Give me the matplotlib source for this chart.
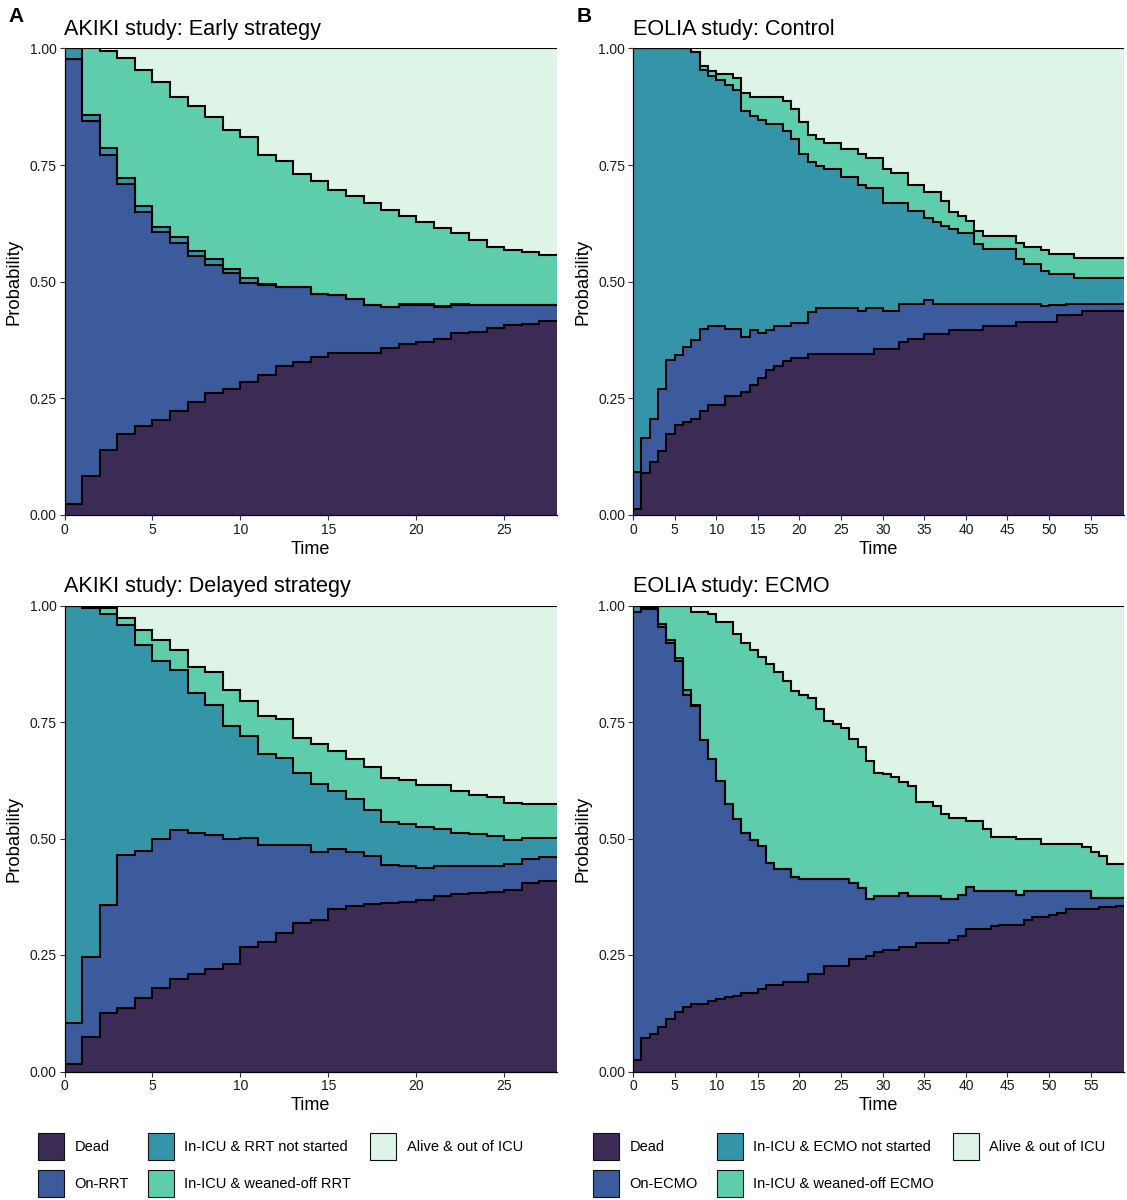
import numpy as np
import matplotlib
matplotlib.use("Agg")
import matplotlib.pyplot as plt
from matplotlib.patches import Patch

plt.rcParams['font.family'] = ['Liberation Sans', 'DejaVu Sans']

# ---------------- data (cumulative stacked state probabilities, one value per day interval) ----
# AKIKI early strategy (days 0..28)
akiki_early_dead = [0.023, 0.084, 0.139, 0.173, 0.190, 0.204, 0.222, 0.242, 0.262, 0.270, 0.286, 0.299, 0.319, 0.328,
                    0.338, 0.347, 0.347, 0.347, 0.357, 0.366, 0.370, 0.378, 0.389, 0.393, 0.401, 0.407, 0.410, 0.416]
akiki_early_on = [0.977, 0.844, 0.772, 0.710, 0.649, 0.607, 0.584, 0.556, 0.535, 0.518, 0.498, 0.493, 0.488, 0.488,
                  0.473, 0.471, 0.462, 0.449, 0.445, 0.451, 0.451, 0.446, 0.451, 0.449, 0.449, 0.449, 0.449, 0.449]
akiki_early_notstarted = [1.000, 0.858, 0.786, 0.723, 0.663, 0.618, 0.595, 0.566, 0.548, 0.528, 0.508, 0.495, 0.489,
                          0.489, 0.474, 0.472, 0.463, 0.450, 0.446, 0.452, 0.452, 0.447, 0.452, 0.450, 0.450, 0.450,
                          0.450, 0.450]
akiki_early_weaned = [1.000, 1.000, 0.995, 0.980, 0.953, 0.929, 0.896, 0.876, 0.853, 0.826, 0.810, 0.771, 0.758, 0.730,
                      0.715, 0.697, 0.683, 0.669, 0.654, 0.641, 0.627, 0.615, 0.604, 0.590, 0.574, 0.567, 0.564, 0.557]

# AKIKI delayed strategy (days 0..28)
akiki_delayed_dead = [0.017, 0.073, 0.125, 0.136, 0.158, 0.180, 0.199, 0.209, 0.221, 0.230, 0.268, 0.278, 0.298,
                      0.319, 0.325, 0.348, 0.355, 0.359, 0.361, 0.363, 0.367, 0.377, 0.381, 0.382, 0.386, 0.390,
                      0.405, 0.408]
akiki_delayed_on = [0.105, 0.245, 0.357, 0.465, 0.473, 0.498, 0.519, 0.512, 0.507, 0.500, 0.502, 0.485, 0.486, 0.485,
                    0.470, 0.477, 0.470, 0.462, 0.444, 0.442, 0.436, 0.442, 0.442, 0.442, 0.442, 0.445, 0.457, 0.461]
akiki_delayed_notstarted = [1.000, 0.995, 0.982, 0.959, 0.915, 0.881, 0.861, 0.812, 0.786, 0.742, 0.719, 0.682, 0.672,
                            0.640, 0.617, 0.603, 0.584, 0.562, 0.536, 0.531, 0.525, 0.521, 0.512, 0.509, 0.505, 0.496,
                            0.502, 0.502]
akiki_delayed_weaned = [1.000, 0.998, 0.995, 0.973, 0.948, 0.925, 0.905, 0.868, 0.858, 0.819, 0.795, 0.763, 0.757,
                        0.715, 0.702, 0.688, 0.671, 0.653, 0.630, 0.626, 0.615, 0.615, 0.601, 0.594, 0.590, 0.577,
                        0.575, 0.573]

# EOLIA control (days 0..59)
eolia_control_dead = [0.012, 0.091, 0.114, 0.138, 0.174, 0.192, 0.199, 0.206, 0.222, 0.235, 0.235, 0.255, 0.255,
                      0.264, 0.279, 0.294, 0.311, 0.320, 0.329, 0.336, 0.336,
                      0.345, 0.345, 0.345, 0.345, 0.345, 0.345, 0.345, 0.345,
                      0.355, 0.355, 0.355, 0.370, 0.378, 0.378, 0.387, 0.387, 0.387,
                      0.396, 0.396, 0.396, 0.396, 0.405, 0.405, 0.405, 0.405,
                      0.414, 0.414, 0.414, 0.414, 0.414, 0.428, 0.428, 0.428,
                      0.437, 0.437, 0.437, 0.437, 0.437]
eolia_control_on = [0.093, 0.165, 0.206, 0.269, 0.333, 0.343, 0.359, 0.374, 0.399, 0.404, 0.404, 0.399, 0.399, 0.381,
                    0.397, 0.389, 0.397, 0.405, 0.405, 0.412, 0.412, 0.436,
                    0.444, 0.444, 0.444, 0.444, 0.444, 0.437, 0.444, 0.444, 0.438, 0.438,
                    0.452, 0.452, 0.452, 0.460,
                    0.452, 0.452, 0.452, 0.452, 0.452, 0.452, 0.452, 0.452, 0.452, 0.452, 0.452, 0.452, 0.452,
                    0.447, 0.449, 0.449,
                    0.453, 0.453, 0.453, 0.453, 0.453, 0.453, 0.453]
eolia_control_notstarted = [1.000, 1.000, 1.000, 1.000, 1.000, 1.000, 1.000,
                            0.993, 0.953, 0.941, 0.932, 0.921, 0.911, 0.865, 0.855, 0.847, 0.838, 0.838, 0.822,
                            0.806, 0.773, 0.757, 0.748, 0.741, 0.741, 0.724, 0.724, 0.708, 0.701, 0.701, 0.668,
                            0.668, 0.668, 0.652, 0.652, 0.636, 0.629, 0.620, 0.612, 0.604, 0.604, 0.580,
                            0.571, 0.571, 0.571, 0.571, 0.548, 0.539, 0.539, 0.523, 0.516, 0.516, 0.516,
                            0.508, 0.508, 0.508, 0.508, 0.508, 0.508]
eolia_control_weaned = [1.000, 1.000, 1.000, 1.000, 1.000, 1.000, 1.000,
                        0.993, 0.962, 0.952, 0.945, 0.945, 0.937, 0.905, 0.896, 0.896, 0.896, 0.896,
                        0.888, 0.871, 0.842, 0.814, 0.806, 0.798, 0.798, 0.784, 0.784, 0.773, 0.766, 0.766,
                        0.742, 0.733, 0.733, 0.708, 0.708, 0.692, 0.692, 0.674, 0.649, 0.641, 0.631, 0.608,
                        0.599, 0.599, 0.599, 0.599, 0.583, 0.574, 0.574, 0.567, 0.559, 0.559, 0.559,
                        0.551, 0.551, 0.551, 0.551, 0.551, 0.551]

# EOLIA ECMO (days 0..59)
eolia_ecmo_dead = [0.025, 0.071, 0.081, 0.096, 0.113, 0.128, 0.138, 0.144, 0.145, 0.152, 0.155, 0.160, 0.162, 0.168,
                   0.169, 0.178, 0.185, 0.185, 0.192, 0.192, 0.192, 0.209, 0.209, 0.226, 0.226, 0.226, 0.242, 0.242,
                   0.248, 0.257, 0.260, 0.260, 0.268, 0.268, 0.276, 0.276, 0.276, 0.276, 0.283, 0.290, 0.305, 0.305,
                   0.305, 0.312, 0.315, 0.315, 0.315, 0.325, 0.331, 0.331, 0.336, 0.340, 0.348, 0.348, 0.348, 0.348,
                   0.353, 0.353, 0.355]
eolia_ecmo_on = [0.987, 0.992, 0.992, 0.953, 0.920, 0.881, 0.808, 0.784, 0.711, 0.670, 0.624, 0.574, 0.542, 0.512,
                 0.496, 0.484, 0.448, 0.435, 0.435, 0.418, 0.413, 0.413, 0.413, 0.413, 0.413, 0.413, 0.405, 0.394,
                 0.371, 0.377, 0.377, 0.377, 0.383, 0.377, 0.377, 0.377, 0.377, 0.371, 0.371, 0.378, 0.396, 0.388,
                 0.388, 0.388, 0.388, 0.388, 0.378, 0.388, 0.388, 0.388, 0.388, 0.388, 0.388, 0.388, 0.388, 0.372,
                 0.372, 0.372, 0.372]
eolia_ecmo_notstarted = [1.000, 0.996, 0.996, 0.960, 0.927, 0.888, 0.819, 0.786, 0.712, 0.670, 0.624, 0.574, 0.542,
                         0.512, 0.496, 0.484, 0.448, 0.435, 0.435, 0.418, 0.413, 0.413, 0.413, 0.413, 0.413, 0.413,
                         0.405, 0.394, 0.371, 0.377, 0.377, 0.377, 0.383, 0.377, 0.377, 0.377, 0.377, 0.371, 0.371,
                         0.378, 0.396, 0.388, 0.388, 0.388, 0.388, 0.388, 0.378, 0.388, 0.388, 0.388, 0.388, 0.388,
                         0.388, 0.388, 0.388, 0.372, 0.372, 0.372, 0.372]
eolia_ecmo_weaned = [1.000, 1.000, 1.000, 1.000, 1.000, 1.000, 1.000, 0.987, 0.987, 0.982, 0.965, 0.965, 0.938,
                     0.920, 0.904, 0.889, 0.874, 0.858, 0.837, 0.817, 0.809, 0.801, 0.778, 0.753, 0.745, 0.738,
                     0.713, 0.697, 0.666, 0.640, 0.638, 0.631, 0.621, 0.613, 0.578, 0.578, 0.570, 0.553, 0.545,
                     0.545, 0.538, 0.538, 0.521, 0.503, 0.503, 0.503, 0.498, 0.498, 0.498, 0.488, 0.488, 0.488,
                     0.488, 0.488, 0.481, 0.471, 0.463, 0.445, 0.445]

titles = ["AKIKI study: Early strategy", "EOLIA study: Control",
          "AKIKI study: Delayed strategy", "EOLIA study: ECMO"]
akiki_labels = ["Dead", "On-RRT", "In-ICU & RRT not started", "In-ICU & weaned-off RRT", "Alive & out of ICU"]
eolia_labels = ["Dead", "On-ECMO", "In-ICU & ECMO not started", "In-ICU & weaned-off ECMO", "Alive & out of ICU"]
y_ticks = [0.0, 0.25, 0.5, 0.75, 1.0]
y_ticklabels = ["0.00", "0.25", "0.50", "0.75", "1.00"]

state_colors = ["#3B2B55", "#3B5B9C", "#3595A8", "#5ECDAB", "#DDF4E6"]

fig = plt.figure(figsize=(11.27, 12.0), dpi=100)
W, H = 1127.0, 1200.0

def ax_rect(l, t, r, b):
    return [l / W, 1 - b / H, (r - l) / W, (b - t) / H]

axA = fig.add_axes(ax_rect(64.5, 48.4, 557, 515))
axB = fig.add_axes(ax_rect(633, 48.4, 1124, 515))
axC = fig.add_axes(ax_rect(64.5, 605.5, 557, 1071.5))
axD = fig.add_axes(ax_rect(633, 605.5, 1124, 1071.5))

panels = [
    (axA, [akiki_early_dead, akiki_early_on, akiki_early_notstarted, akiki_early_weaned], 28, np.arange(0, 26, 5)),
    (axB, [eolia_control_dead, eolia_control_on, eolia_control_notstarted, eolia_control_weaned], 59, np.arange(0, 56, 5)),
    (axC, [akiki_delayed_dead, akiki_delayed_on, akiki_delayed_notstarted, akiki_delayed_weaned], 28, np.arange(0, 26, 5)),
    (axD, [eolia_ecmo_dead, eolia_ecmo_on, eolia_ecmo_notstarted, eolia_ecmo_weaned], 59, np.arange(0, 56, 5)),
]

for (ax, bounds, tmax, xt), title in zip(panels, titles):
    n = len(bounds[0])
    edges = np.arange(n + 1)
    layers = [np.zeros(n)] + [np.asarray(b, float) for b in bounds] + [np.ones(n)]
    for i in range(5):
        ax.stairs(layers[i + 1], edges, baseline=layers[i], fill=True,
                  color=state_colors[i], linewidth=0, zorder=1)
    for i in range(1, 6):
        ax.stairs(layers[i], edges, baseline=None, color="black", linewidth=1.5, zorder=3)
    ax.set_xlim(0, tmax)
    ax.set_ylim(0, 1)
    ax.set_xticks(xt)
    ax.set_yticks(y_ticks)
    ax.set_yticklabels(y_ticklabels)
    ax.tick_params(axis='both', labelsize=10, length=3.5, width=0.8, color="#333333",
                   labelcolor="#1a1a1a", pad=2)
    for s in ["top", "right"]:
        ax.spines[s].set_visible(False)
    for s in ["left", "bottom"]:
        ax.spines[s].set_linewidth(0.9)
        ax.spines[s].set_color("black")
        ax.spines[s].set_zorder(4)
    ax.set_xlabel("Time", fontsize=13, labelpad=3)
    ax.set_ylabel("Probability", fontsize=13.3, labelpad=5)
    ax.set_title(title, loc="left", fontsize=15.6, pad=10, x=0.0)

fig.text(8 / W, 1 - 17 / H, "A", fontsize=15, fontweight="bold", va="center", ha="left")
fig.text(577 / W, 1 - 17 / H, "B", fontsize=15, fontweight="bold", va="center", ha="left")

def make_legend(labels, x_left):
    handles = [Patch(facecolor=c, edgecolor="#111111", linewidth=0.8) for c in state_colors]
    leg = fig.legend(handles, labels, loc="upper left", bbox_to_anchor=(x_left / W, 1 - 1133 / H),
                     ncol=3, frameon=False, fontsize=10.5, handlelength=1.8, handleheight=2.47,
                     handletextpad=0.7, columnspacing=1.3, labelspacing=0.68, borderaxespad=0,
                     borderpad=0)
    return leg

make_legend(akiki_labels, 38)
make_legend(eolia_labels, 593)

fig.savefig("out.png", dpi=100)
